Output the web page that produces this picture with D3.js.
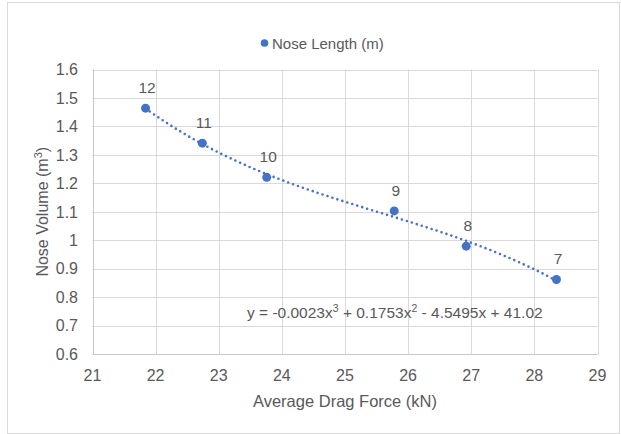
<!DOCTYPE html>
<html>
<head>
<meta charset="utf-8">
<script src="https://cdn.jsdelivr.net/npm/d3@7"></script>
<style>
  body { margin: 0; background: #fff; }
  text { font-family: "Liberation Sans", Arial, sans-serif; fill: #595959; }
</style>
</head>
<body>
<div id="chart"></div>
<script>
// data
var noseLength = [12, 11, 10, 9, 8, 7];
var dragForce = [21.84, 22.74, 23.76, 25.78, 26.92, 28.35];
var noseVolume = [1.464, 1.341, 1.221, 1.103, 0.979, 0.862];

var xTicks = [21, 22, 23, 24, 25, 26, 27, 28, 29];
var yTicks = [0.6, 0.7, 0.8, 0.9, 1, 1.1, 1.2, 1.3, 1.4, 1.5, 1.6];

var seriesName = 'Nose Length (m)';
var xTitle = 'Average Drag Force (kN)';
// equation pieces, superscripts marked with sup:true
var trendLabel = [
    {t: 'y = -0.0023x'}, {t: '3', sup: true},
    {t: ' + 0.1753x'}, {t: '2', sup: true},
    {t: ' - 4.5495x + 41.02'}
];

var blue = '#4472c4';
var gridColor = '#d9d9d9';

var width = 621, height = 434;

var svg = d3.select('#chart').append('svg')
    .attr('width', width)
    .attr('height', height);

// outer chart border
svg.append('rect')
    .attr('x', 7.5).attr('y', 2.5)
    .attr('width', 612).attr('height', 431)
    .attr('fill', 'none')
    .attr('stroke', gridColor);

var x = d3.scaleLinear().domain([21, 29]).range([92.5, 597.5]);
var y = d3.scaleLinear().domain([0.6, 1.6]).range([354, 69.5]);

// gridlines
svg.append('g').selectAll('line.v')
    .data(xTicks)
    .enter().append('line')
    .attr('x1', function (d) { return Math.round(x(d)) + 0.5; })
    .attr('x2', function (d) { return Math.round(x(d)) + 0.5; })
    .attr('y1', y(1.6)).attr('y2', y(0.6))
    .attr('stroke', gridColor);

svg.append('g').selectAll('line.h')
    .data(yTicks)
    .enter().append('line')
    .attr('y1', function (d) { return Math.round(y(d)) + 0.5; })
    .attr('y2', function (d) { return Math.round(y(d)) + 0.5; })
    .attr('x1', x(21)).attr('x2', x(29))
    .attr('stroke', gridColor);

// axis lines a bit darker
svg.append('line')
    .attr('x1', Math.round(x(21)) + 0.5).attr('x2', Math.round(x(21)) + 0.5)
    .attr('y1', y(1.6)).attr('y2', y(0.6))
    .attr('stroke', '#c8c8c8');
svg.append('line')
    .attr('x1', x(21)).attr('x2', x(29))
    .attr('y1', Math.round(y(0.6)) + 0.5).attr('y2', Math.round(y(0.6)) + 0.5)
    .attr('stroke', '#c8c8c8');

// tick labels
svg.append('g').selectAll('text')
    .data(yTicks)
    .enter().append('text')
    .attr('x', 78)
    .attr('y', function (d) { return y(d); })
    .attr('dy', '0.36em')
    .attr('text-anchor', 'end')
    .style('font-size', '16px')
    .text(function (d) { return d3.format('~g')(d); });

svg.append('g').selectAll('text')
    .data(xTicks)
    .enter().append('text')
    .attr('x', function (d) { return x(d); })
    .attr('y', 381)
    .attr('text-anchor', 'middle')
    .style('font-size', '16px')
    .text(function (d) { return d; });

// axis titles
svg.append('text')
    .attr('x', (x(21) + x(29)) / 2)
    .attr('y', 407)
    .attr('text-anchor', 'middle')
    .style('font-size', '16.5px')
    .text(xTitle);

var yt = svg.append('text')
    .attr('transform', 'translate(48,' + (y(0.6) + y(1.6)) / 2 + ') rotate(-90)')
    .attr('text-anchor', 'middle')
    .style('font-size', '16px');
yt.append('tspan').text('Nose Volume (m');
yt.append('tspan').attr('dy', -6).style('font-size', '11px').text('3');
yt.append('tspan').attr('dy', 6).text(')');

// cubic trendline fitted from the points (least squares)
function polyFit(xs, ys, order) {
    var mx = d3.mean(xs);
    var n = order + 1;
    var A = [], b = [];
    for (var i = 0; i < n; i++) {
        A.push(new Array(n).fill(0));
        b.push(0);
    }
    xs.forEach(function (xv, k) {
        var u = xv - mx;
        for (var i = 0; i < n; i++) {
            for (var j = 0; j < n; j++) A[i][j] += Math.pow(u, i + j);
            b[i] += ys[k] * Math.pow(u, i);
        }
    });
    // gaussian elimination
    for (var c = 0; c < n; c++) {
        var p = c;
        for (var r = c + 1; r < n; r++) if (Math.abs(A[r][c]) > Math.abs(A[p][c])) p = r;
        var tmp = A[c]; A[c] = A[p]; A[p] = tmp;
        var tb = b[c]; b[c] = b[p]; b[p] = tb;
        for (var r2 = c + 1; r2 < n; r2++) {
            var f = A[r2][c] / A[c][c];
            for (var j2 = c; j2 < n; j2++) A[r2][j2] -= f * A[c][j2];
            b[r2] -= f * b[c];
        }
    }
    var coef = new Array(n).fill(0);
    for (var r3 = n - 1; r3 >= 0; r3--) {
        var s = b[r3];
        for (var j3 = r3 + 1; j3 < n; j3++) s -= A[r3][j3] * coef[j3];
        coef[r3] = s / A[r3][r3];
    }
    return function (xv) {
        var u = xv - mx, v = 0;
        for (var i = n - 1; i >= 0; i--) v = v * u + coef[i];
        return v;
    };
}

var fit = polyFit(dragForce, noseVolume, 3);
var ext = d3.extent(dragForce);
var trendX = d3.range(0, 101).map(function (i) { return ext[0] + (ext[1] - ext[0]) * i / 100; });

var line = d3.line()
    .x(function (d) { return x(d); })
    .y(function (d) { return y(fit(d)); });

svg.append('path')
    .datum(trendX)
    .attr('d', line)
    .attr('fill', 'none')
    .attr('stroke', blue)
    .attr('stroke-width', 2.6)
    .attr('stroke-linecap', 'round')
    .attr('stroke-dasharray', '0 5.2');

// points
var pts = dragForce.map(function (d, i) {
    return {x: d, y: noseVolume[i], label: noseLength[i]};
});

svg.append('g').selectAll('circle')
    .data(pts)
    .enter().append('circle')
    .attr('cx', function (d) { return x(d.x); })
    .attr('cy', function (d) { return y(d.y); })
    .attr('r', 4.5)
    .attr('fill', blue);

svg.append('g').selectAll('text')
    .data(pts)
    .enter().append('text')
    .attr('x', function (d) { return x(d.x) + 1.5; })
    .attr('y', function (d) { return y(d.y) - 15; })
    .attr('text-anchor', 'middle')
    .style('font-size', '15.5px')
    .text(function (d) { return d.label; });

// trendline equation
var eq = svg.append('text')
    .attr('x', 247)
    .attr('y', 318)
    .style('font-size', '15.5px');
trendLabel.forEach(function (p) {
    if (p.sup) {
        eq.append('tspan').attr('dy', -6).style('font-size', '10.5px').text(p.t);
    } else {
        eq.append('tspan').attr('dy', p === trendLabel[0] ? 0 : 6).text(p.t);
    }
});

// legend
svg.append('circle')
    .attr('cx', 264.5).attr('cy', 43)
    .attr('r', 3.8)
    .attr('fill', blue);
svg.append('text')
    .attr('x', 272)
    .attr('y', 49)
    .style('font-size', '15px')
    .text(seriesName);
</script>
</body>
</html>
